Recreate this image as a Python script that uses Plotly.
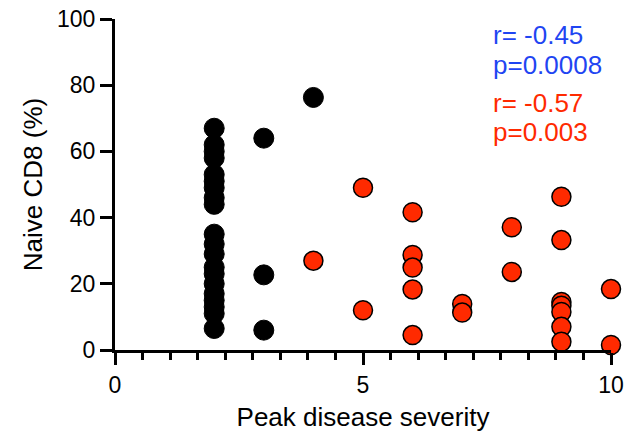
import plotly.graph_objects as go

# Data
black_x = [2]*20 + [3]*3 + [4]
black_y = [67, 62, 60, 58, 53, 51, 49, 46, 44, 35, 32, 29, 25, 23, 20, 17, 15, 13, 11, 6.5,
           64, 22.7, 6, 76.3]

red_x = [4, 5, 5, 6, 6, 6, 6, 6, 7, 7, 8, 8, 9, 9, 9, 9, 9, 9, 9, 10, 10]
red_y = [27, 49, 12, 41.6, 28.7, 24.9, 18.3, 4.5, 13.9, 11.3, 37.1, 23.6,
         46.3, 33.2, 14.5, 13.4, 11.5, 7, 2.5, 18.4, 1.5]

stats_text = ["r= -0.45", "p=0.0008", "r= -0.57", "p=0.003"]
stats_y = [95.2, 86.0, 74.6, 65.9]
BLUE = "#1f45f2"
RED = "#ff2a00"
stats_colors = [BLUE, BLUE, RED, RED]

FONT = "Liberation Sans, Arial, Helvetica, sans-serif"

fig = go.Figure()
fig.add_trace(go.Scatter(
    x=black_x, y=black_y, mode="markers",
    marker=dict(size=20, color="black", line=dict(color="black", width=1)),
    cliponaxis=False, hoverinfo="skip", showlegend=False))
fig.add_trace(go.Scatter(
    x=red_x, y=red_y, mode="markers",
    marker=dict(size=19, color=RED, line=dict(color="black", width=1.5)),
    cliponaxis=False, hoverinfo="skip", showlegend=False))

for t, yv, c in zip(stats_text, stats_y, stats_colors):
    fig.add_annotation(x=7.58, y=yv, xref="x", yref="y", text=t, showarrow=False,
                       xanchor="left", yanchor="middle",
                       font=dict(family=FONT, size=26, color=c))

fig.update_layout(
    width=626, height=433,
    margin=dict(l=115, r=15, t=19, b=83),
    plot_bgcolor="white", paper_bgcolor="white",
    font=dict(family=FONT, size=23, color="black"),
)
fig.update_xaxes(
    range=[0, 10], showgrid=False, zeroline=False, automargin=False,
    showline=True, linecolor="black", linewidth=3,
    ticks="outside", tickwidth=3, ticklen=12, tickcolor="black",
    tickvals=[0, 5, 10], ticklabelstandoff=0,
    tickfont=dict(size=23),
    minor=dict(ticks="outside", tick0=0, dtick=5/9, ticklen=7, tickwidth=3,
               tickcolor="black", showgrid=False),
    title=dict(text="Peak disease severity", font=dict(size=26), standoff=12),
)
fig.update_yaxes(
    range=[0, 100], showgrid=False, zeroline=False, automargin=False,
    showline=True, linecolor="black", linewidth=3,
    ticks="outside", tickwidth=3, ticklen=12, tickcolor="black",
    tickvals=[0, 20, 40, 60, 80, 100], ticklabelstandoff=0,
    tickfont=dict(size=23),
    title=dict(text="Naive CD8 (%)", font=dict(size=26), standoff=7),
)

fig.write_html("out.html")
